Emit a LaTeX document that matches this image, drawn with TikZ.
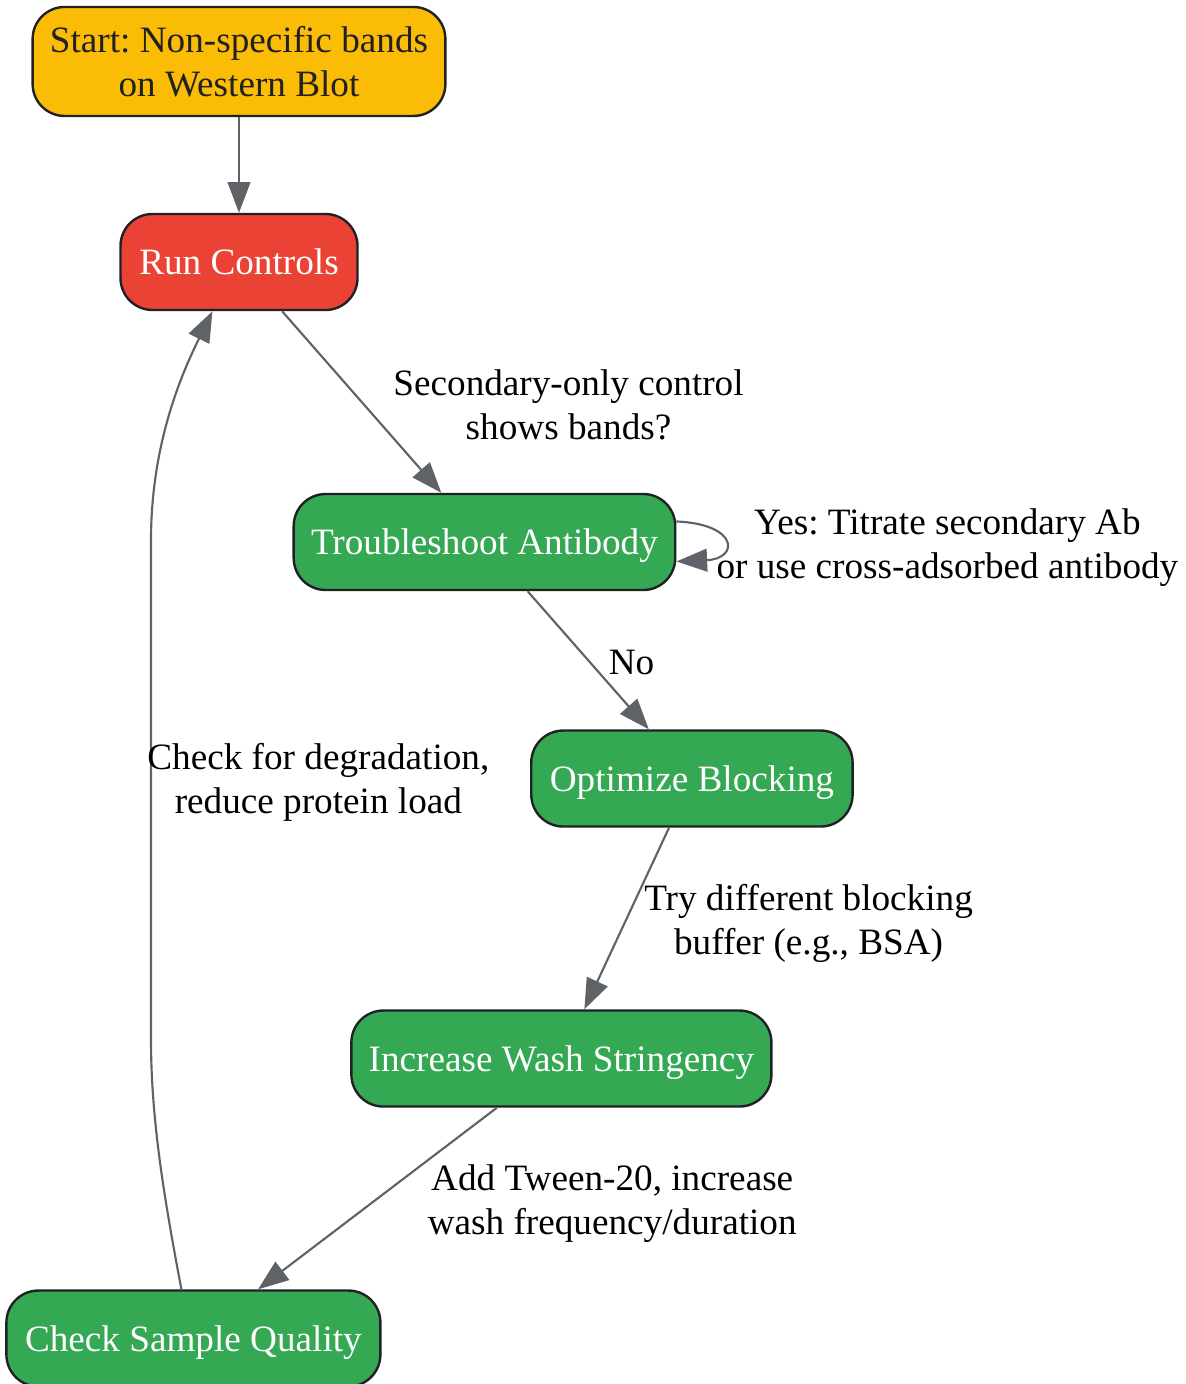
\documentclass[tikz,border=0pt]{standalone}
\usepackage{fontspec}
\setmainfont{Liberation Serif}
\frenchspacing
\usetikzlibrary{shapes,arrows.meta,calc,positioning}
\definecolor{startyellow}{HTML}{FBBC05}
\definecolor{ctrlred}{HTML}{EA4335}
\definecolor{stepgreen}{HTML}{34A853}
\definecolor{edgegrey}{HTML}{5F6368}
\definecolor{borderdark}{HTML}{202124}
\newcommand{\diagfont}{\fontsize{27.9}{33}\selectfont}
\tikzstyle{box} = [draw=borderdark, rectangle, fill=stepgreen, text=white, line width=1.8pt, rounded corners=24pt, inner xsep=13pt, minimum height=72pt, text depth=0pt, align=center, font=\diagfont]
\tikzstyle{lbl} = [inner sep=0pt, anchor=west, align=center, text=black, font=\diagfont]
\tikzstyle{line} = [draw=edgegrey, line width=1.6pt, -{Triangle[length=23pt,width=17pt]}]

\begin{document}
\begin{tikzpicture}[node distance=210pt]
	\useasboundingbox (0,0) rectangle (888.75pt,-1038pt);
	\node [box, fill=startyellow, text=borderdark, minimum width=307.5pt, minimum height=81.75pt](start) at (179.25pt,-46.1pt){Start: Non-specific bands\\on Western Blot};
	\node [box, fill=ctrlred, minimum width=177.75pt, below of=start, node distance=150.4pt](runctl){Run Controls};
	\node [box, minimum width=285pt, below of=runctl, xshift=184.1pt](antibody){Troubleshoot Antibody};
	\node [box, minimum width=241pt, below of=antibody, node distance=177.4pt, xshift=155.6pt](blocking){Optimize Blocking};
	\node [box, minimum width=313.5pt, below of=blocking, xshift=-97.9pt](wash){Increase Wash Stringency};
	\node [box, minimum width=280.5pt, below of=wash, xshift=-276pt](sample){Check Sample Quality};
	\coordinate (bendlow) at (113.25pt,-780pt);
	\coordinate (bendhigh) at (113.25pt,-405pt);

	\path [line] (start) -- (runctl);
	\path [line] (runctl) -- node[lbl, xshift=23pt, yshift=-2pt]{Secondary-only control\\shows bands?} (antibody);
	\path [line] ([yshift=15.4pt]antibody.east) .. controls +(47pt,-2pt) and +(47pt,2pt) .. node[lbl, xshift=-6pt, yshift=-4.5pt]{Yes: Titrate secondary Ab\\or use cross-adsorbed antibody} ([yshift=-14.6pt]antibody.east);
	\path [line] (antibody) -- node[lbl, xshift=14.6pt, yshift=-2pt]{No} (blocking);
	\path [line] (blocking) -- node[lbl, xshift=12.4pt, yshift=-3.5pt]{Try different blocking\\buffer (e.g., BSA)} (wash);
	\path [line] (wash) -- node[lbl, xshift=37pt, yshift=-3.5pt]{Add Tween-20, increase\\wash frequency/duration} (sample);
	\path [line] ([xshift=-9pt]sample.north) .. controls +(-12.75pt,67.5pt) and +(0,-60pt) .. (bendlow) -- node[lbl, xshift=-3.5pt, yshift=5.5pt]{Check for degradation,\\reduce protein load} (bendhigh) .. controls +(0,75pt) and +(-21pt,-42.75pt) .. ([xshift=-19.9pt]runctl.south);
\end{tikzpicture}
\end{document}
